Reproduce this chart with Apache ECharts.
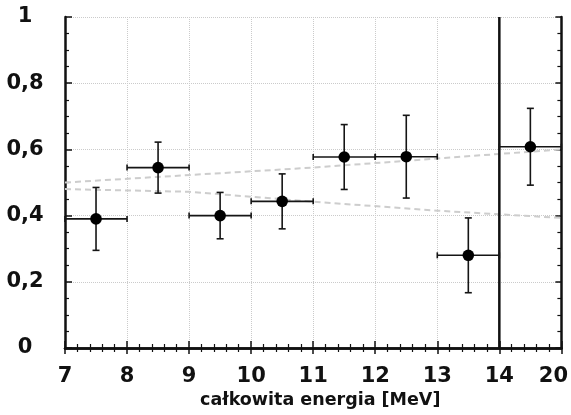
<!DOCTYPE html>
<html><head><meta charset="utf-8">
<script src="https://cdn.jsdelivr.net/npm/echarts@6/dist/echarts.min.js"></script>
<style>html,body{margin:0;padding:0;background:#fff}#c{width:571px;height:415px}</style>
</head><body><div id="c"></div>
<script>
// Bin edges in MeV (last bin 14-20 is drawn compressed to one unit)
const binEdges = [7, 8, 9, 10, 11, 12, 13, 14, 20];
const values = [0.39, 0.545, 0.40, 0.443, 0.577, 0.578, 0.28, 0.608];
const errors = [0.095, 0.077, 0.07, 0.083, 0.098, 0.125, 0.113, 0.116];
const xTickValues = [7, 8, 9, 10, 11, 12, 13, 14, 20];
const yTickLabels = ['0', '0,2', '0,4', '0,6', '0,8', '1'];
const trendAEnergy = [7, 11, 20];
const trendAValue = [0.50, 0.545, 0.60];
const trendBEnergy = [7, 9, 11, 13, 20];
const trendBValue = [0.48, 0.472, 0.442, 0.415, 0.393];
const boundaryEnergy = 14;

function pos(e) { return e <= 14 ? e : 14 + (e - 14) / 6; }

const points = values.map((v, i) => {
  const lo = binEdges[i], hi = binEdges[i + 1];
  return [pos((lo + hi) / 2), v, pos(lo), pos(hi), errors[i]];
});

const FONT = '"DejaVu Sans", sans-serif';
const gridLine = { show: true, lineStyle: { color: '#cbcbcb', type: 'dotted', width: 1 } };
const axisLineStyle = { show: true, lineStyle: { color: '#111', width: 2.5 } };

const chart = echarts.init(document.getElementById('c'), null, { renderer: 'canvas' });
chart.setOption({
  animation: false,
  backgroundColor: '#fff',
  grid: { left: 65, right: 8, top: 17, bottom: 67 },
  xAxis: [{
    type: 'value', min: 7, max: 15, interval: 1, position: 'bottom',
    axisLine: axisLineStyle,
    axisTick: { show: true, inside: true, length: 7, lineStyle: { color: '#111', width: 1.5 } },
    minorTick: { show: true, splitNumber: 5, length: 4, lineStyle: { color: '#111', width: 1.2 } },
    splitLine: gridLine,
    axisLabel: {
      margin: 18, fontSize: 21, fontWeight: 'bold', fontFamily: FONT, color: '#111',
      formatter: function (v) {
        const i = Math.round(v) - 7;
        const t = String(xTickValues[i]);
        return i === 8 ? '{r|' + t + '}' : t;
      },
      rich: { r: { fontSize: 21, fontWeight: 'bold', fontFamily: FONT, color: '#111', padding: [0, 16, 0, 0] } }
    },
    name: 'całkowita energia [MeV]', nameLocation: 'middle', nameGap: 42,
    nameTextStyle: { fontSize: 17.5, fontWeight: 'bold', fontFamily: FONT, color: '#111', padding: [0, 0, 0, 14] }
  }, {
    type: 'value', min: 7, max: 15, interval: 1, position: 'top',
    axisLine: axisLineStyle,
    axisTick: { show: true, inside: true, length: 6, lineStyle: { color: '#111', width: 1.5 } },
    minorTick: { show: true, splitNumber: 5, length: 4, lineStyle: { color: '#111', width: 1.2 } },
    splitLine: { show: false }, axisLabel: { show: false }
  }],
  yAxis: [{
    type: 'value', min: 0, max: 1, interval: 0.2, position: 'left',
    axisLine: axisLineStyle,
    axisTick: { show: true, inside: true, length: 7, lineStyle: { color: '#111', width: 1.5 } },
    minorTick: { show: true, splitNumber: 4, length: 4, lineStyle: { color: '#111', width: 1.2 } },
    splitLine: gridLine,
    axisLabel: {
      margin: 40, align: 'center', fontSize: 21, fontWeight: 'bold', fontFamily: FONT, color: '#111',
      formatter: function (v) { return yTickLabels[Math.round(v * 5)]; }
    }
  }, {
    type: 'value', min: 0, max: 1, interval: 0.2, position: 'right',
    axisLine: axisLineStyle,
    axisTick: { show: true, inside: true, length: 6, lineStyle: { color: '#111', width: 1.5 } },
    minorTick: { show: true, splitNumber: 4, length: 4, lineStyle: { color: '#111', width: 1.2 } },
    splitLine: { show: false }, axisLabel: { show: false }
  }],
  series: [{
    type: 'line', xAxisIndex: 0, yAxisIndex: 0, symbol: 'none', silent: true,
    data: trendAEnergy.map((e, i) => [pos(e), trendAValue[i]]),
    lineStyle: { color: '#cdcdcd', width: 2, type: [6, 4] }, z: 1
  }, {
    type: 'line', xAxisIndex: 0, yAxisIndex: 0, symbol: 'none', silent: true,
    data: trendBEnergy.map((e, i) => [pos(e), trendBValue[i]]),
    lineStyle: { color: '#cdcdcd', width: 2, type: [6, 4] }, z: 1
  }, {
    type: 'line', xAxisIndex: 0, yAxisIndex: 0, symbol: 'none', silent: true,
    data: [[pos(boundaryEnergy), 0], [pos(boundaryEnergy), 1]],
    lineStyle: { color: '#111', width: 2.5 }, z: 3
  }, {
    type: 'custom', xAxisIndex: 0, yAxisIndex: 0, z: 4,
    data: points,
    renderItem: function (params, api) {
      const x = api.value(0), y = api.value(1), lo = api.value(2), hi = api.value(3), e = api.value(4);
      const c = api.coord([x, y]);
      const l = api.coord([lo, y]), h = api.coord([hi, y]);
      const t = api.coord([x, y + e]), b = api.coord([x, y - e]);
      const st = { stroke: '#151515', lineWidth: 1.6, fill: null };
      const cap = 3.5, ecap = 3;
      return {
        type: 'group', children: [
          { type: 'line', shape: { x1: l[0], y1: l[1], x2: h[0], y2: h[1] }, style: st },
          { type: 'line', shape: { x1: l[0], y1: l[1] - ecap, x2: l[0], y2: l[1] + ecap }, style: st },
          { type: 'line', shape: { x1: h[0], y1: h[1] - ecap, x2: h[0], y2: h[1] + ecap }, style: st },
          { type: 'line', shape: { x1: t[0], y1: t[1], x2: b[0], y2: b[1] }, style: st },
          { type: 'line', shape: { x1: t[0] - cap, y1: t[1], x2: t[0] + cap, y2: t[1] }, style: st },
          { type: 'line', shape: { x1: b[0] - cap, y1: b[1], x2: b[0] + cap, y2: b[1] }, style: st },
          { type: 'circle', shape: { cx: c[0], cy: c[1], r: 5.8 }, style: { fill: '#000' } }
        ]
      };
    }
  }]
});
</script></body></html>
